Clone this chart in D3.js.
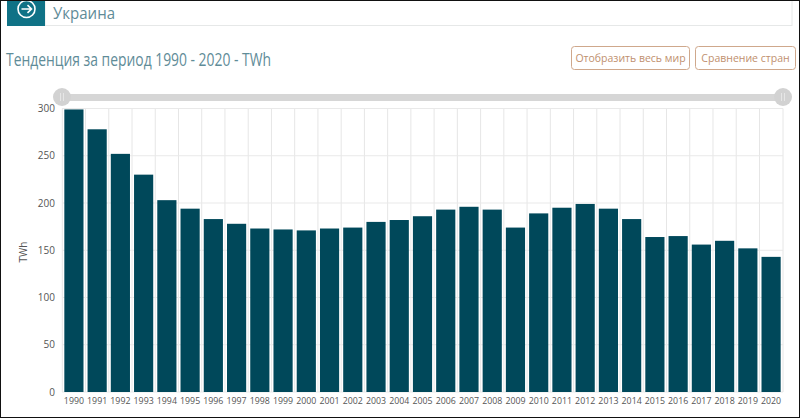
<!DOCTYPE html>
<html><head><meta charset="utf-8">
<script src="https://cdnjs.cloudflare.com/ajax/libs/d3/7.8.5/d3.min.js"></script>
<style>html,body{margin:0;padding:0;background:#fff}svg{display:block}text{font-family:"Open Sans",sans-serif}</style>
</head><body><svg id="c" width="800" height="418"></svg>
<script>
const years=d3.range(1990,2021).map(String);
const twh=[299,278,252,230,203,194,183,178,173,172,171,173,174,180,182,186,193,196,193,174,189,195,199,194,183,164,165,156,160,152,143];
const yTicks=[0,50,100,150,200,250,300];
const yLabel="TWh";
const title="Тенденция за период 1990 - 2020 - TWh";
const heading="Украина";
const btn=["Отобразить весь мир","Сравнение стран"];

const svg=d3.select("#c");
const x=d3.scaleBand().domain(years).range([62,783]).paddingInner(0.175).paddingOuter(0.1);
const y=d3.scaleLinear().domain([0,300]).range([392,108.5]);

// heading box
svg.append("rect").attr("x",45).attr("y",-5).attr("width",747).attr("height",30.5).attr("fill","#fff").attr("stroke","#e6e8e8");
svg.append("rect").attr("x",7).attr("y",0).attr("width",38).attr("height",26).attr("fill","#0f7286");
svg.append("circle").attr("cx",26.5).attr("cy",9).attr("r",8.5).attr("fill","none").attr("stroke","#fff").attr("stroke-width",1.6);
svg.append("path").attr("d","M21.5 9H31M27.5 5.2L31.5 9L27.5 12.8").attr("fill","none").attr("stroke","#fff").attr("stroke-width",1.6);
svg.append("text").attr("x",53).attr("y",18.5).attr("font-size",17).attr("fill","#5f8c98").attr("textLength",62).attr("lengthAdjust","spacingAndGlyphs").text(heading);
svg.append("text").attr("x",6).attr("y",66).attr("font-size",19).attr("fill","#5f8c98").attr("textLength",265).attr("lengthAdjust","spacingAndGlyphs").text(title);

// buttons
[[571,118,btn[0]],[695,100,btn[1]]].forEach(([bx,w,t])=>{
  svg.append("rect").attr("x",bx+.5).attr("y",46.5).attr("width",w).attr("height",23).attr("rx",3).attr("fill","#fff").attr("stroke","#cfa88c");
  svg.append("text").attr("x",bx+w/2+.5).attr("y",62).attr("text-anchor","middle").attr("font-size",10.5).attr("fill","#c08f6e").text(t);
});

// grid
const gap=x.step()-x.bandwidth();
svg.append("g").selectAll("line").data(years.concat(["end"])).join("line")
  .attr("x1",d=>d==="end"?783:x(d)-gap/2).attr("x2",d=>d==="end"?783:x(d)-gap/2)
  .attr("y1",108.5).attr("y2",392).attr("stroke","#e6e6e6");
svg.append("g").selectAll("line").data(yTicks).join("line")
  .attr("x1",62).attr("x2",783).attr("y1",d=>y(d)).attr("y2",d=>y(d)).attr("stroke","#e9e9e9");

// slider
svg.append("rect").attr("x",62).attr("y",94).attr("width",721).attr("height",7).attr("fill","#d6d6d6");
[62,783].forEach(cx=>{
  svg.append("circle").attr("cx",cx).attr("cy",97).attr("r",9).attr("fill","#d2d2d2");
  svg.append("path").attr("d",`M${cx-1.5} 93V101M${cx+1.5} 93V101`).attr("stroke","#e6e6e6").attr("stroke-width",1);
});

// bars
svg.append("g").selectAll("rect").data(twh).join("rect")
  .attr("x",(d,i)=>x(years[i])).attr("width",x.bandwidth())
  .attr("y",d=>y(d)).attr("height",d=>y(0)-y(d)).attr("fill","#00485a");

// axes
const ya=svg.append("g").attr("transform","translate(55,0)").call(d3.axisLeft(y).tickValues(yTicks).tickSize(0).tickPadding(0));
ya.select(".domain").remove();
ya.selectAll("text").attr("font-size",10).attr("fill","#555").style("font-family",'"Open Sans",sans-serif');
const xa=svg.append("g").attr("transform","translate(0,396)").call(d3.axisBottom(x).tickSize(0).tickPadding(2));
xa.select(".domain").remove();
xa.selectAll("text").attr("font-size",8.8).attr("fill","#555").style("font-family",'"Open Sans",sans-serif');
svg.append("text").attr("transform","translate(27,252) rotate(-90)").attr("text-anchor","middle").attr("font-size",10).attr("fill","#555").text(yLabel);

// photo frame
svg.append("rect").attr("x",0.5).attr("y",0.5).attr("width",799).attr("height",417).attr("fill","none").attr("stroke","#111");
</script></body></html>
